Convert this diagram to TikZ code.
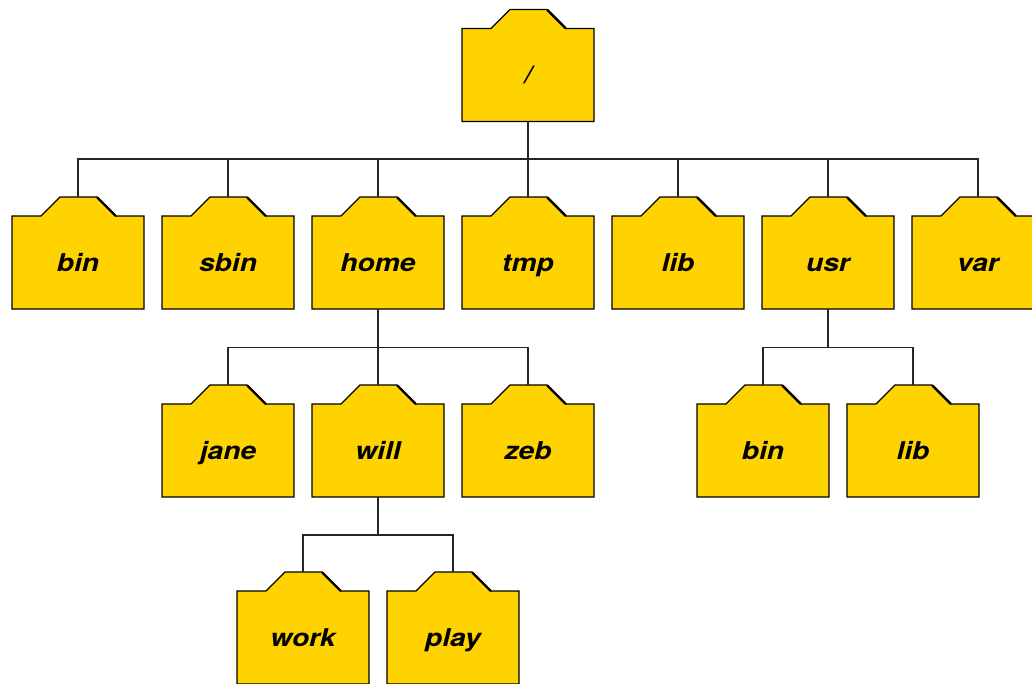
\documentclass[tikz,border=0pt]{standalone}
\usepackage{fontspec}
\newfontfamily\lbl{TeX Gyre Heros}[FakeStretch=1.15]
\usetikzlibrary{calc}
\definecolor{fy}{RGB}{255,211,0}
\tikzset{
 folderline/.style={draw=black, fill=fy, line width=1.2pt, line join=miter},
 tabshade/.style={draw=black, line width=2.4pt, line cap=round},
 flabel/.style={minimum width=132pt, minimum height=93pt, inner sep=0pt, text height=17pt, text depth=0pt, font=\lbl\bfseries\itshape\fontsize{24.5}{24.5}\selectfont},
 conn/.style={draw=black!85, line width=1.2pt},
}
\newcommand\fldr[4]{%
 \path[folderline] (#2-66,#3+46.5) -- (#2-66,#3-46.5) -- (#2-37,#3-46.5) -- (#2-18,#3-65.5) -- (#2+19,#3-65.5) -- (#2+38,#3-46.5) -- (#2+66,#3-46.5) -- (#2+66,#3+46.5) -- cycle;
 \draw[tabshade] (#2+19.5,#3-64.8) -- (#2+37.5,#3-46.8);
 \node[flabel] (#1) at (#2,#3) {#4};
 \coordinate (#1-top) at (#2,#3-65.5);
}
\begin{document}
\begin{tikzpicture}[x=1pt,y=-1pt]
\useasboundingbox (0,0) rectangle (1032,683);
\clip (0,0) rectangle (1032,683);
\fill[white] (0,0) rectangle (1032,683);
% connectors
\coordinate (rootbus) at (528,159);
\coordinate (homebus) at (378,347.5);
\coordinate (usrbus) at (828,347.5);
\coordinate (willbus) at (378,535);
% folders
\fldr{root}{528}{75}{/}
\fldr{bin}{78}{262.5}{bin}
\fldr{sbin}{228}{262.5}{sbin}
\fldr{home}{378}{262.5}{home}
\fldr{tmp}{528}{262.5}{tmp}
\fldr{lib}{678}{262.5}{lib}
\fldr{usr}{828}{262.5}{usr}
\fldr{var}{978}{262.5}{var}
\fldr{jane}{228}{450.5}{jane}
\fldr{will}{378}{450.5}{will}
\fldr{zeb}{528}{450.5}{zeb}
\fldr{ubin}{763}{450.5}{bin}
\fldr{ulib}{913}{450.5}{lib}
\fldr{work}{303}{637.5}{work}
\fldr{play}{453}{637.5}{play}
\foreach \c in {bin,sbin,home,tmp,lib,usr,var}
  \draw[conn] (root.south) -- (rootbus) -| (\c-top);
\foreach \c in {jane,will,zeb}
  \draw[conn] (home.south) -- (homebus) -| (\c-top);
\foreach \c in {ubin,ulib}
  \draw[conn] (usr.south) -- (usrbus) -| (\c-top);
\foreach \c in {work,play}
  \draw[conn] (will.south) -- (willbus) -| (\c-top);
\end{tikzpicture}
\end{document}
